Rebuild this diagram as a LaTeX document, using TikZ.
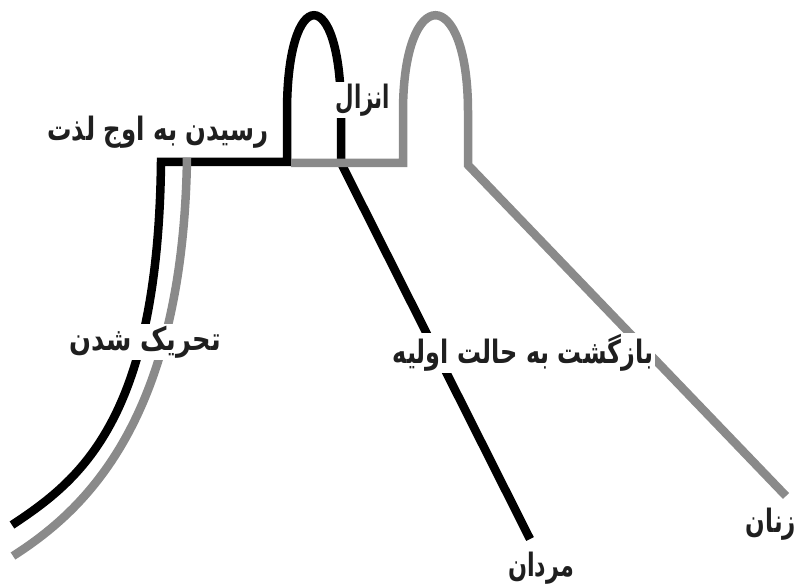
\documentclass[tikz,border=0pt]{standalone}
\usepackage{graphicx}
\usepackage{fontspec}
\TeXXeTstate=1
\newfontfamily\arabicfont[Script=Arabic]{DejaVu Sans}
\newcommand\fatext[2][1]{\scalebox{#1}[1.4]{\beginR #2\endR}}
\definecolor{womengray}{RGB}{138,138,138}
\tikzset{
  menline/.style={draw=black, line width=8.5pt, line join=miter, line cap=butt},
  womenline/.style={draw=womengray, line width=8.5pt, line join=miter, line cap=butt},
  lbl/.style={font=\arabicfont\bfseries\fontsize{23}{27}\selectfont, fill=white, inner sep=1.5pt, text=black!88}
}
\begin{document}
\begin{tikzpicture}[x=1pt, y=-1pt]
\useasboundingbox (0,0) rectangle (800,588);
% men (black)
\coordinate (mstart) at (12,525);
\coordinate (mcorner) at (161,162);
\coordinate (mleft) at (287,162);
\coordinate (mright) at (341,163);
\coordinate (mend) at (530,539);
\draw[menline] (mstart) .. controls (80,480) and (158,420) .. (mcorner)
  -- (mleft) -- (287,112) .. controls (287,-17) and (341,-17) .. (341,112)
  -- (mright) -- (mend);
% women (gray)
\coordinate (wstart) at (13,556);
\coordinate (wjoin) at (187,158);
\coordinate (wresume) at (291,163);
\coordinate (wleft) at (403,163);
\coordinate (wright) at (468,165);
\coordinate (wend) at (786,496);
\draw[womenline] (wstart) .. controls (85,510) and (183,420) .. (wjoin);
\draw[womenline] (wresume) -- (wleft) -- (403,112) .. controls (403,-17) and (468,-17) .. (468,112)
  -- (wright) -- (wend);
% labels
\node[lbl] (orgasm) at (158,132) {\fatext[1.06]{رسیدن به اوج لذت}};
\node[lbl] (ejac) at (363,100) {\fatext[0.93]{انزال}};
\node[lbl] (arousal) at (145,342) {\fatext[1.12]{تحریک شدن}};
\node[lbl] (resolution) at (523,353) {\fatext[1.04]{بازگشت به حالت اولیه}};
\node[lbl] (men) at (541,568) {\fatext[0.97]{مردان}};
\node[lbl] (women) at (771,524) {\fatext[1.0]{زنان}};
\end{tikzpicture}
\end{document}
